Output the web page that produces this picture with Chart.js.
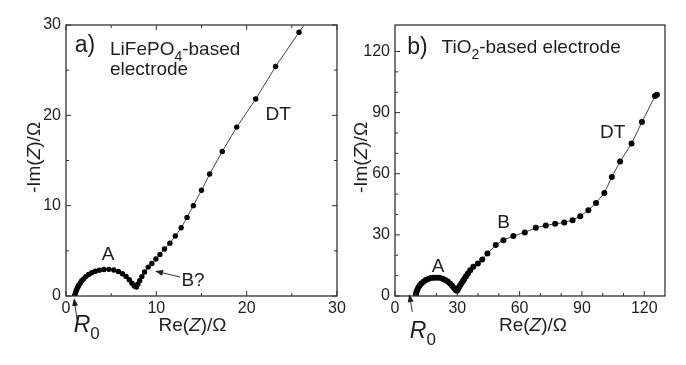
<!DOCTYPE html>
<html>
<head>
<meta charset="utf-8">
<script src="https://cdn.jsdelivr.net/npm/chart.js@4"></script>
<style>
  body { margin: 0; background: #fff; }
  #wrap { position: relative; width: 686px; height: 365px; }
  #c1 { position: absolute; left: 0; top: 0; }
  #c2 { position: absolute; left: 343px; top: 0; }
</style>
</head>
<body>
<div id="wrap">
  <canvas id="c1" width="350" height="365"></canvas>
  <canvas id="c2" width="343" height="365"></canvas>
</div>
<script>
// a) LiFePO4 electrode, values in ohm
const lfpRe = [0.95, 1.0, 1.05, 1.12, 1.2, 1.3, 1.42, 1.58, 1.75, 1.95, 2.2, 2.5, 2.85, 3.25, 3.7, 4.2, 4.75, 5.3, 5.8, 6.25, 6.65, 7.0, 7.3, 7.55, 7.8,
  7.95, 8.15, 8.4, 8.7, 9.1, 9.5, 9.95, 10.4, 10.9, 11.5, 12.1, 12.75, 13.4, 14.1, 15.0, 15.9, 17.3, 18.9, 21.0, 23.2, 25.8, 27.2];
const lfpIm = [0.0, 0.15, 0.35, 0.55, 0.75, 0.97, 1.2, 1.45, 1.68, 1.9, 2.15, 2.38, 2.58, 2.74, 2.86, 2.93, 2.95, 2.88, 2.72, 2.47, 2.17, 1.8, 1.42, 1.1, 1.0,
  1.3, 1.7, 2.15, 2.65, 3.2, 3.6, 4.1, 4.6, 5.2, 5.85, 6.65, 7.55, 8.7, 10.0, 11.7, 13.5, 16.0, 18.7, 21.8, 25.4, 29.2, 31.2];

// b) TiO2 electrode, values in ohm
const tioRe = [10.0, 10.1, 10.3, 10.7, 11.2, 11.9, 12.7, 13.7, 14.8, 16.0, 17.3, 18.7, 20.1, 21.5, 22.9, 24.2, 25.4, 26.5, 27.5, 28.4, 29.2, 29.8,
  30.3, 30.8, 31.4, 32.0, 32.7, 33.4, 34.2, 35.1, 36.2, 37.7, 39.9, 42.0, 44.5, 48.5, 52.2, 57.0, 62.5, 67.8, 72.6, 77.1, 81.5, 85.5, 89.2, 93.1,
  96.8, 100.8, 104.4, 108.4, 113.9, 118.9, 125.2, 126.1];
const tioIm = [0.0, 0.8, 1.8, 2.9, 4.0, 5.1, 6.1, 7.0, 7.8, 8.4, 8.8, 9.0, 9.0, 8.9, 8.5, 7.9, 7.1, 6.1, 5.0, 3.9, 3.0, 2.6,
  3.3, 4.3, 5.3, 6.3, 7.4, 8.5, 9.7, 11.0, 12.6, 14.3, 16.0, 17.9, 20.9, 25.0, 27.4, 29.5, 31.2, 33.5, 34.6, 35.4, 36.1, 37.2, 39.2, 42.1,
  45.7, 50.6, 58.4, 66.0, 74.8, 85.4, 98.1, 98.8];

const lfpTicks = [0, 10, 20, 30];
const lfpMinor = [5, 15, 25];
const tioTicks = [0, 30, 60, 90, 120];
const tioMinor = [10, 20, 40, 50, 70, 80, 100, 110];

const FONT = '"Liberation Sans", Arial, sans-serif';
const INK = '#1e1e1e';

function rich(ctx, parts, px, py, size, align) {
  const fontFor = k => (k === 'i' ? 'italic ' : '') + (k === 'sub' ? Math.round(size * 0.72) : size) + 'px ' + FONT;
  let w = 0;
  parts.forEach(([t, k]) => { ctx.font = fontFor(k); w += ctx.measureText(t).width; });
  let cx = align === 'center' ? px - w / 2 : px;
  ctx.textAlign = 'left';
  ctx.textBaseline = 'alphabetic';
  parts.forEach(([t, k]) => {
    ctx.font = fontFor(k);
    ctx.fillText(t, cx, k === 'sub' ? py + size * 0.32 : py);
    cx += ctx.measureText(t).width;
  });
}

function arrow(ctx, x1, y1, x2, y2) {
  const ang = Math.atan2(y2 - y1, x2 - x1);
  ctx.beginPath();
  ctx.moveTo(x1, y1);
  ctx.lineTo(x2 - 5 * Math.cos(ang), y2 - 5 * Math.sin(ang));
  ctx.stroke();
  ctx.beginPath();
  ctx.moveTo(x2, y2);
  ctx.lineTo(x2 - 8 * Math.cos(ang) + 3 * Math.sin(ang), y2 - 8 * Math.sin(ang) - 3 * Math.cos(ang));
  ctx.lineTo(x2 - 8 * Math.cos(ang) - 3 * Math.sin(ang), y2 - 8 * Math.sin(ang) + 3 * Math.cos(ang));
  ctx.closePath();
  ctx.fill();
}

// frame, inward ticks and the text labels
function decor(o) {
  return {
    id: 'decor',
    afterDraw(chart) {
      const { ctx, chartArea: a, scales: { x, y } } = chart;
      ctx.save();
      ctx.strokeStyle = '#333';
      ctx.fillStyle = INK;
      ctx.lineWidth = 1.3;
      ctx.strokeRect(a.left, a.top, a.right - a.left, a.bottom - a.top);
      ctx.lineWidth = 1;
      const seg = (x1, y1, x2, y2) => { ctx.beginPath(); ctx.moveTo(x1, y1); ctx.lineTo(x2, y2); ctx.stroke(); };
      [[o.xMajor, 5], [o.xMinor, 3]].forEach(([vals, len]) => vals.forEach(v => {
        const p = x.getPixelForValue(v);
        seg(p, a.bottom, p, a.bottom - len);
        if (o.mirror) seg(p, a.top, p, a.top + len);
      }));
      [[o.yMajor, 5], [o.yMinor, 3]].forEach(([vals, len]) => vals.forEach(v => {
        const p = y.getPixelForValue(v);
        seg(a.left, p, a.left + len, p);
        if (o.mirror) seg(a.right, p, a.right - len, p);
      }));

      o.labels.forEach(l => rich(ctx, l.parts, x.getPixelForValue(l.x), y.getPixelForValue(l.y), l.size, l.align));
      o.arrows.forEach(r => arrow(ctx, x.getPixelForValue(r[0]), y.getPixelForValue(r[1]), x.getPixelForValue(r[2]), y.getPixelForValue(r[3])));

      // axis titles
      const midX = (a.left + a.right) / 2 + o.xTitleShift;
      rich(ctx, [['Re(', ''], ['Z', 'i'], [')/Ω', '']], midX, 331, 19, 'center');
      ctx.translate(o.yTitleX, (a.top + a.bottom) / 2 - 3);
      ctx.rotate(-Math.PI / 2);
      rich(ctx, [['-Im(', ''], ['Z', 'i'], [')/Ω', '']], 0, 7, 19, 'center');
      ctx.restore();
    }
  };
}

function panel(id, re, im, xMax, yMax, xTicks, yTicks, pad, yWidth, radius, plugin) {
  const tickFont = { family: FONT, size: 16 };
  return new Chart(document.getElementById(id), {
    type: 'scatter',
    data: {
      datasets: [{
        data: re.map((v, i) => ({ x: v, y: im[i] })),
        showLine: true,
        borderColor: '#444',
        borderWidth: 1,
        pointRadius: radius,
        pointBackgroundColor: '#000',
        pointBorderWidth: 0,
        pointHoverRadius: radius
      }]
    },
    options: {
      responsive: false,
      animation: false,
      events: [],
      layout: { padding: pad },
      plugins: { legend: { display: false }, tooltip: { enabled: false } },
      scales: {
        x: {
          type: 'linear', min: 0, max: xMax,
          grid: { display: false, drawTicks: false },
          border: { display: false },
          afterBuildTicks: s => { s.ticks = xTicks.map(v => ({ value: v })); },
          afterFit: s => { s.height = 69; },
          ticks: { font: tickFont, color: INK, padding: 3, maxRotation: 0, autoSkip: false }
        },
        y: {
          type: 'linear', min: 0, max: yMax,
          grid: { display: false, drawTicks: false },
          border: { display: false },
          afterBuildTicks: s => { s.ticks = yTicks.map(v => ({ value: v })); },
          afterFit: s => { s.width = yWidth; },
          ticks: { font: tickFont, color: INK, padding: 5, autoSkip: false }
        }
      }
    },
    plugins: [plugin]
  });
}

panel('c1', lfpRe, lfpIm, 30, 30, lfpTicks, lfpTicks, { left: 0, top: 25, right: 13, bottom: 0 }, 66, 2.7, decor({
  xMajor: lfpTicks, xMinor: lfpMinor, yMajor: lfpTicks, yMinor: lfpMinor, mirror: true,
  xTitleShift: -9, yTitleX: 33,
  labels: [
    { parts: [['a)', '']], x: 2.1, y: 27.0, size: 23, align: 'center' },
    { parts: [['LiFePO', ''], ['4', 'sub'], ['-based', '']], x: 4.87, y: 26.7, size: 19, align: 'left' },
    { parts: [['electrode', '']], x: 4.87, y: 24.5, size: 19, align: 'left' },
    { parts: [['DT', '']], x: 23.5, y: 19.5, size: 19, align: 'center' },
    { parts: [['A', '']], x: 4.65, y: 4.0, size: 19, align: 'center' },
    { parts: [['B?', '']], x: 14.06, y: 1.1, size: 19, align: 'center' },
    { parts: [['R', 'i'], ['0', 'sub']], x: 2.3, y: -4.0, size: 23, align: 'center' }
  ],
  arrows: [[1.22, -2.66, 0.89, -0.22], [12.62, 2.1, 9.86, 2.77]]
}));

panel('c2', tioRe, tioIm, 130, 133, tioTicks, tioTicks, { left: 0, top: 25, right: 21, bottom: 0 }, 52, 3, decor({
  xMajor: tioTicks, xMinor: tioMinor, yMajor: tioTicks, yMinor: tioMinor, mirror: false,
  xTitleShift: 3, yTitleX: 17,
  labels: [
    { parts: [['b)', '']], x: 10.8, y: 119, size: 23, align: 'center' },
    { parts: [['TiO', ''], ['2', 'sub'], ['-based electrode', '']], x: 22.4, y: 119.5, size: 19, align: 'left' },
    { parts: [['DT', '']], x: 104.8, y: 77.4, size: 19, align: 'center' },
    { parts: [['B', '']], x: 52.3, y: 33.3, size: 19, align: 'center' },
    { parts: [['A', '']], x: 20.7, y: 11.8, size: 19, align: 'center' },
    { parts: [['R', 'i'], ['0', 'sub']], x: 13.4, y: -20.6, size: 23, align: 'center' }
  ],
  arrows: [[8.36, -7.8, 6.9, 0.98]]
}));
</script>
</body>
</html>
